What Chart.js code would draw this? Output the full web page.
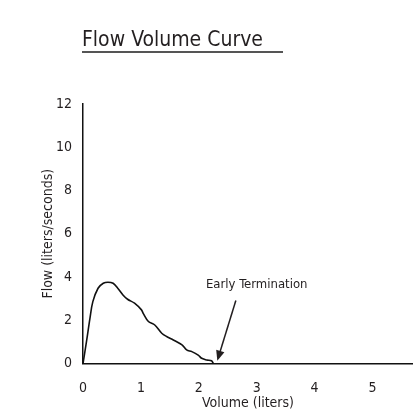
<!DOCTYPE html>
<html>
<head>
<meta charset="utf-8">
<script src="https://cdn.jsdelivr.net/npm/chart.js@4"></script>
<style>
  body { margin: 0; background: #fff; }
  #wrap { position: relative; width: 413px; height: 416px; }
  #title {
    position: absolute; left: 82px; top: 27px;
    font: 21px 'Liberation Sans Narrow', 'DejaVu Sans Condensed', Arial, sans-serif;
    line-height: 24px; color: #231f20; white-space: nowrap;
  }
  #rule { position: absolute; left: 82px; top: 51px; width: 201px; height: 2px; background: #555; }
  canvas { position: absolute; left: 0; top: 0; }
</style>
</head>
<body>
<div id="wrap">
  <canvas id="flow" width="413" height="416"></canvas>
  <div id="title">Flow Volume Curve</div>
  <div id="rule"></div>
</div>
<script>
// curve: volume (liters) vs flow (liters/seconds)
var volume = [0, 0.06, 0.12, 0.17, 0.26, 0.35, 0.43, 0.52, 0.6, 0.69, 0.77, 0.89, 1.01, 1.04,
  1.13, 1.24, 1.36, 1.45, 1.56, 1.71, 1.79, 1.88, 1.99, 2.05, 2.14, 2.22, 2.25];
var flow = [0, 1.01, 2.09, 2.86, 3.48, 3.71, 3.76, 3.71, 3.48, 3.17, 2.97, 2.79, 2.48, 2.32,
  1.94, 1.78, 1.4, 1.24, 1.09, 0.86, 0.63, 0.55, 0.39, 0.24, 0.16, 0.13, 0];

var xTicks = [0, 1, 2, 3, 4, 5];
var yTicks = [0, 2, 4, 6, 8, 10, 12];

// note + arrow (data units)
var noteText = "Early Termination";
var notePos = [3.0, 3.63];
var arrowFrom = [2.64, 2.91];
var arrowTo = [2.32, 0.13];

var font = "'Liberation Sans Narrow', 'DejaVu Sans Condensed', Arial, sans-serif";
var ink = "#231f20";

var points = volume.map(function (v, i) {
  return { x: v, y: flow[i] };
});

var notePlugin = {
  id: "note",
  afterDatasetsDraw: function (chart) {
    var ctx = chart.ctx;
    var xs = chart.scales.x;
    var ys = chart.scales.y;
    ctx.save();
    ctx.fillStyle = ink;
    ctx.font = "13px " + font;
    ctx.textAlign = "center";
    ctx.textBaseline = "middle";
    ctx.fillText(noteText, xs.getPixelForValue(notePos[0]), ys.getPixelForValue(notePos[1]));

    var x1 = xs.getPixelForValue(arrowFrom[0]), y1 = ys.getPixelForValue(arrowFrom[1]);
    var x2 = xs.getPixelForValue(arrowTo[0]), y2 = ys.getPixelForValue(arrowTo[1]);
    var a = Math.atan2(y2 - y1, x2 - x1);
    var head = 11;
    ctx.strokeStyle = ink;
    ctx.lineWidth = 1.5;
    ctx.beginPath();
    ctx.moveTo(x1, y1);
    ctx.lineTo(x2 - Math.cos(a) * head * 0.8, y2 - Math.sin(a) * head * 0.8);
    ctx.stroke();
    ctx.beginPath();
    ctx.moveTo(x2, y2);
    ctx.lineTo(x2 - head * Math.cos(a - 0.4), y2 - head * Math.sin(a - 0.4));
    ctx.lineTo(x2 - head * Math.cos(a + 0.4), y2 - head * Math.sin(a + 0.4));
    ctx.closePath();
    ctx.fill();
    ctx.restore();
  },
};

new Chart(document.getElementById("flow"), {
  type: "line",
  data: {
    datasets: [
      {
        data: points,
        borderColor: "#111",
        borderWidth: 1.6,
        pointRadius: 0,
        tension: 0.35,
        fill: false,
      },
    ],
  },
  options: {
    responsive: false,
    animation: false,
    layout: { padding: { top: 104, left: 36, right: 0, bottom: 0 } },
    plugins: {
      legend: { display: false },
      tooltip: { enabled: false },
    },
    scales: {
      x: {
        type: "linear",
        min: 0,
        max: 5.7,
        afterBuildTicks: function (s) {
          s.ticks = xTicks.map(function (v) { return { value: v }; });
        },
        afterFit: function (s) { s.height = 52.5; },
        grid: { display: false, drawTicks: false },
        border: { display: true, color: "#111", width: 1.5 },
        ticks: { color: ink, padding: 16, font: { family: font, size: 14 } },
        title: {
          display: true,
          text: "Volume (liters)",
          color: ink,
          font: { family: font, size: 14 },
          padding: { top: 0, bottom: 4 },
        },
      },
      y: {
        min: 0,
        max: 12,
        afterBuildTicks: function (s) {
          s.ticks = yTicks.map(function (v) { return { value: v }; });
        },
        afterFit: function (s) { s.width = 47; },
        grid: { display: false, drawTicks: false },
        border: { display: true, color: "#111", width: 1.5 },
        ticks: { color: ink, padding: 11, font: { family: font, size: 14 } },
        title: {
          display: true,
          text: "Flow (liters/seconds)",
          color: ink,
          font: { family: font, size: 14 },
          padding: { top: 4, bottom: 0 },
        },
      },
    },
  },
  plugins: [notePlugin],
});
</script>
</body>
</html>
